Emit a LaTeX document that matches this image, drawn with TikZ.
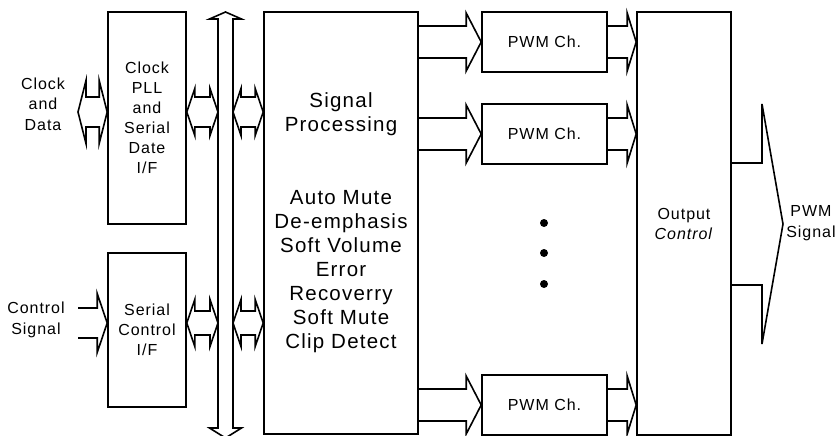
\documentclass[tikz,border=0pt]{standalone}
\usepackage{fontspec}
\setmainfont{Liberation Sans}[LetterSpace=6]
\usetikzlibrary{calc}
\tikzset{
  box/.style={draw, line width=1.6pt, inner sep=0pt, align=center, font=\fontsize{16pt}{20pt}\selectfont},
  fat/.style={draw, line width=1.6pt, line join=miter},
  bigtext/.style={font=\fontsize{20.5pt}{24.1pt}\selectfont},
  smalltext/.style={align=center, inner sep=0pt, font=\fontsize{16pt}{20.5pt}\selectfont},
  dot/.style={fill=black},
}
% single fat arrow: #1 start (x), #2 tip, #3 shaft half, #4 head half, #5 head length
\newcommand\fatR[5]{%
  \draw[fat] let \p1=(#1), \p2=(#2) in
    (\x1,\y2+#3) -- (\x2-#5,\y2+#3) -- (\x2-#5,\y2+#4) -- (\x2,\y2)
    -- (\x2-#5,\y2-#4) -- (\x2-#5,\y2-#3) -- (\x1,\y2-#3);}
% double fat arrow: #1 left tip (x), #2 right tip (x), #3 row (y), #4 shaft half, #5 head half, #6 head length
\newcommand\fatD[6]{%
  \draw[fat] let \p1=(#1), \p2=(#2), \p3=(#3) in
    (\x1,\y3) -- (\x1+#6,\y3+#5) -- (\x1+#6,\y3+#4) -- (\x2-#6,\y3+#4)
    -- (\x2-#6,\y3+#5) -- (\x2,\y3) -- (\x2-#6,\y3-#5) -- (\x2-#6,\y3-#4)
    -- (\x1+#6,\y3-#4) -- (\x1+#6,\y3-#5) -- cycle;}
\begin{document}
\begin{tikzpicture}[x=1pt,y=-1pt]
\useasboundingbox (0,0) rectangle (839,436);

% boxes
\node[box, minimum width=78pt, minimum height=212pt] (clk) at (147,118)
  {Clock\\PLL\\and\\Serial\\Date\\I/F};
\node[box, minimum width=78pt, minimum height=154pt] (ser) at (147,330)
  {Serial\\Control\\I/F};
\node[box, bigtext, minimum width=154pt, minimum height=422pt] (sp) at (341,223)
  {Signal\\Processing\\[48.2pt]Auto Mute\\De-emphasis\\Soft Volume\\Error\\Recoverry\\Soft Mute\\Clip Detect};
\node[box, minimum width=125pt, minimum height=60pt] (pwmA) at (544.5,42) {PWM Ch.};
\node[box, minimum width=125pt, minimum height=60pt] (pwmB) at (544.5,134) {PWM Ch.};
\node[box, minimum width=125pt, minimum height=60pt] (pwmC) at (544.5,405) {PWM Ch.};
\node[box, minimum width=94pt, minimum height=423pt] (out) at (684,223.5)
  {Output\\\textit{Control}};

% outside labels
\node[smalltext] (cdt) at (43,104) {Clock\\and\\Data};
\node[smalltext] (cst) at (36,320) {Control\\Signal};
\node[smalltext] (pws) at (811,223) {PWM\\Signal};

% helper coordinates
\coordinate (r1) at (0,112);
\coordinate (r2) at (0,323);
\coordinate (busL) at (218,0);
\coordinate (busR) at (233,0);
\coordinate (busT) at (225.5,12);
\coordinate (busB) at (225.5,438);
\coordinate (cdL) at (78,0);
\coordinate (csL) at (78,0);
\coordinate (outtip) at (783,224);

% vertical bus
\draw[fat] let \p1=(busT), \p2=(busB) in
  (\x1,\y1) -- (\x1+16pt,\y1-7pt) -- (\x1+7.5pt,\y1-7pt) -- (\x1+7.5pt,\y2+10pt)
  -- (\x1+16pt,\y2+10pt) -- (\x2,\y2) -- (\x1-16pt,\y2+10pt) -- (\x1-7.5pt,\y2+10pt)
  -- (\x1-7.5pt,\y1-7pt) -- (\x1-16pt,\y1-7pt) -- cycle;

% input side arrows
\fatD{cdL}{clk.west}{r1}{15pt}{31.5pt}{8pt}
\fatR{csL}{ser.west|-r2}{15pt}{29.5pt}{10pt}

% to/from bus
\fatD{clk.east}{busL}{r1}{15pt}{23.5pt}{8pt}
\fatD{busR}{sp.west}{r1}{15pt}{23.5pt}{8pt}
\fatD{ser.east}{busL}{r2}{12pt}{23.5pt}{8pt}
\fatD{busR}{sp.west}{r2}{12pt}{23.5pt}{8pt}

% signal processing to PWM channels
\fatR{sp.east}{pwmA.west}{16pt}{29pt}{15pt}
\fatR{sp.east}{pwmB.west}{16pt}{29pt}{15pt}
\fatR{sp.east}{pwmC.west}{16pt}{29pt}{15pt}

% PWM channels to output control
\fatR{pwmA.east}{out.west|-pwmA.west}{16pt}{29pt}{9pt}
\fatR{pwmB.east}{out.west|-pwmB.west}{16pt}{29pt}{9pt}
\fatR{pwmC.east}{out.west|-pwmC.west}{16pt}{29pt}{9pt}

% output arrow
\fatR{out.east}{outtip}{61pt}{120pt}{21pt}

% dots
\fill[dot] (544,223) circle (4pt);
\fill[dot] (544,253) circle (4pt);
\fill[dot] (544,284) circle (4pt);
\end{tikzpicture}
\end{document}
